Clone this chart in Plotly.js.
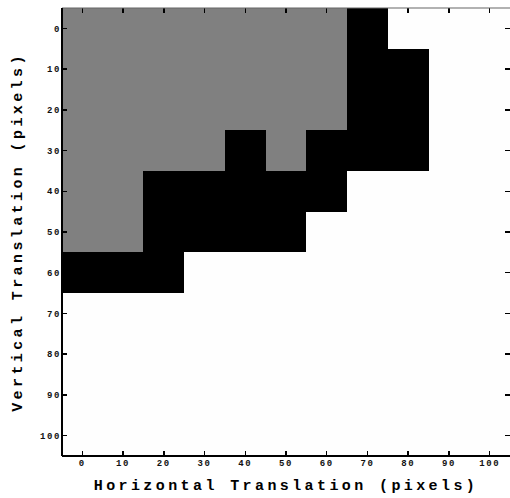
<!DOCTYPE html>
<html>
<head>
<meta charset="utf-8">
<script src="https://cdn.plot.ly/plotly-3.0.1.min.js"></script>
<style>
html,body{margin:0;padding:0;background:#fff;}
#chart{width:510px;height:498px;}
.xtick text,.ytick text{letter-spacing:1.6px;}
.xtitle,.ytitle{letter-spacing:3.4px;}
</style>
</head>
<body>
<div id="chart"></div>
<script>
// Translation offsets (pixels)
var xShifts = [0,10,20,30,40,50,60,70,80,90,100];
var yShifts = [0,10,20,30,40,50,60,70,80,90,100];
// Region code per cell: 0 = white, 1 = gray, 2 = black ; rows follow yShifts
var row0   = [1,1,1,1,1,1,1,2,0,0,0];
var row10  = [1,1,1,1,1,1,1,2,2,0,0];
var row20  = [1,1,1,1,1,1,1,2,2,0,0];
var row30  = [1,1,1,1,2,1,2,2,2,0,0];
var row40  = [1,1,2,2,2,2,2,0,0,0,0];
var row50  = [1,1,2,2,2,2,0,0,0,0,0];
var row60  = [2,2,2,0,0,0,0,0,0,0,0];
var row70  = [0,0,0,0,0,0,0,0,0,0,0];
var row80  = [0,0,0,0,0,0,0,0,0,0,0];
var row90  = [0,0,0,0,0,0,0,0,0,0,0];
var row100 = [0,0,0,0,0,0,0,0,0,0,0];
var z = [row0,row10,row20,row30,row40,row50,row60,row70,row80,row90,row100];

var tickFont = {family:'"Liberation Mono", "Courier New", monospace', size:9, color:'#111', weight:'bold'};
var titleFont = {family:'"Liberation Mono", "Courier New", monospace', size:15, color:'#000', weight:'bold'};

var trace = {
  type:'heatmap', x:xShifts, y:yShifts, z:z,
  zmin:0, zmax:2, zsmooth:false, showscale:false,
  colorscale:[[0,'#fefefe'],[0.5,'#808080'],[1,'#000000']],
  hoverinfo:'none'
};

var layout = {
  width:510, height:498,
  margin:{l:62, r:0, t:8, b:42},
  paper_bgcolor:'#fff', plot_bgcolor:'#fff',
  showlegend:false,
  xaxis:{
    range:[-5,105], tickvals:xShifts, ticktext:xShifts.map(String),
    ticks:'inside', ticklen:5, tickwidth:1.5, tickcolor:'#000',
    mirror:'ticks', showline:false,
    showgrid:false, zeroline:false, tickfont:tickFont,
    title:{text:'Horizontal Translation (pixels)', font:titleFont, standoff:11}
  },
  yaxis:{
    range:[105,-5], tickvals:yShifts, ticktext:yShifts.map(String),
    ticks:'inside', ticklen:5, tickwidth:1.5, tickcolor:'#000',
    mirror:'ticks', showline:false,
    showgrid:false, zeroline:false, tickfont:tickFont,
    title:{text:'Vertical Translation (pixels)', font:titleFont, standoff:13}
  },
  shapes:[
    {type:'line', xref:'paper', yref:'paper', x0:0, x1:1, y0:1, y1:1, line:{color:'#666', width:1.2}, layer:'above'},
    {type:'line', xref:'paper', yref:'paper', x0:0, x1:1, y0:0, y1:0, line:{color:'#000', width:2}, layer:'above'},
    {type:'line', xref:'paper', yref:'paper', x0:0, x1:0, y0:0, y1:1, line:{color:'#000', width:2}, layer:'above'}
  ]
};

Plotly.newPlot('chart',[trace],layout,{displayModeBar:false, staticPlot:true});
</script>
</body>
</html>
